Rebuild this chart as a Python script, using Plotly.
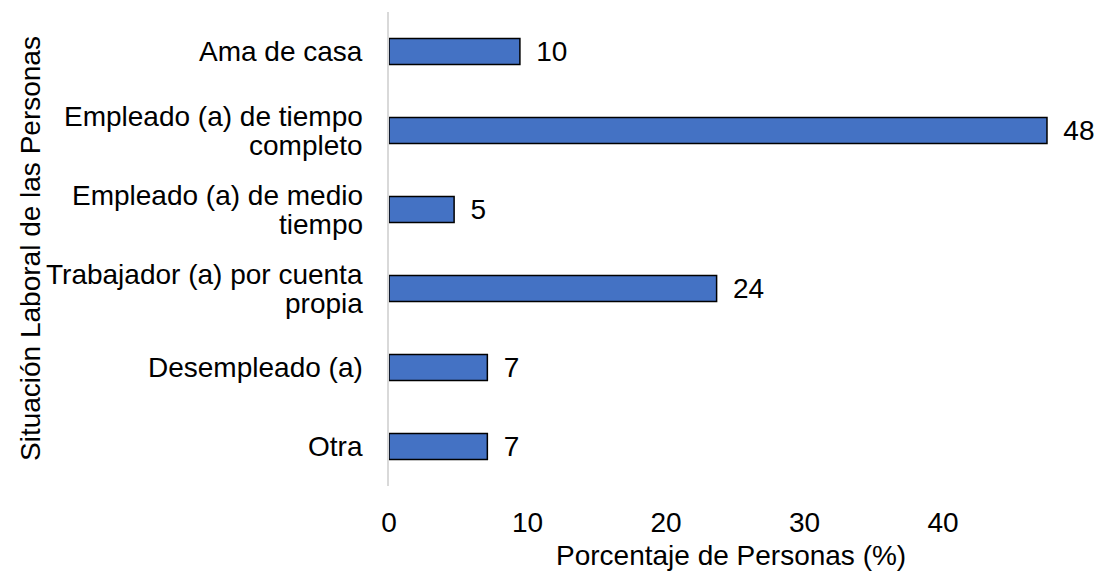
import plotly.graph_objects as go

categories = [
    "Ama de casa",
    "Empleado (a) de tiempo<br>completo",
    "Empleado (a) de medio<br>tiempo",
    "Trabajador (a) por cuenta<br>propia",
    "Desempleado (a)",
    "Otra",
]
values = [9.45, 47.5, 4.7, 23.65, 7.1, 7.1]
labels = ["10", "48", "5", "24", "7", "7"]
x_ticks = [0, 10, 20, 30, 40]

font_family = "Liberation Sans, Arial, sans-serif"
FS = 28

W, H = 1095, 574
L, R, T, B = 389, 30, 12, 88
pw = W - L - R
ph = H - T - B

fig = go.Figure(
    go.Bar(
        x=values,
        y=categories,
        orientation="h",
        text=labels,
        texttemplate=" \u2009%{text}",
        textposition="outside",
        constraintext="none",
        textfont=dict(size=FS, color="#000000", family=font_family),
        marker=dict(color="#4472C4", line=dict(color="#000000", width=1.5)),
        width=0.33,
        cliponaxis=False,
        hoverinfo="skip",
    )
)

fig.update_layout(
    width=W,
    height=H,
    plot_bgcolor="white",
    paper_bgcolor="white",
    margin=dict(l=L, r=R, t=T, b=B, autoexpand=False),
    showlegend=False,
    font=dict(family=font_family, size=FS, color="#000000"),
)

fig.update_xaxes(
    range=[0, 48.8],
    tickvals=x_ticks,
    showgrid=False,
    zeroline=False,
    showline=False,
    ticks="outside",
    ticklen=11,
    tickcolor="rgba(0,0,0,0)",
    tickfont=dict(size=FS, color="#000000"),
    automargin=False,
)

fig.update_yaxes(
    categoryorder="array",
    categoryarray=categories[::-1],
    showgrid=False,
    zeroline=False,
    showline=True,
    linecolor="#D9D9D9",
    linewidth=1.5,
    ticks="",
    showticklabels=False,
    automargin=False,
)

# category labels, drawn line by line with tight line spacing
LINE = 29
for cat in categories:
    lines = cat.split("<br>")
    n = len(lines)
    for i, line in enumerate(lines):
        offset = (n - 1) / 2 * LINE - i * LINE
        fig.add_annotation(
            text=line,
            xref="paper", yref="y",
            x=0, y=cat,
            xanchor="right", yanchor="middle",
            xshift=-24, yshift=offset,
            showarrow=False,
            font=dict(size=FS, color="#000000"),
        )

fig.add_annotation(
    text="Porcentaje de Personas (%)",
    xref="paper", yref="paper",
    x=(731 - L) / pw, y=-(555 - (T + ph)) / ph,
    xanchor="center", yanchor="middle",
    showarrow=False,
    font=dict(size=FS, color="#000000"),
)
fig.add_annotation(
    text="Situación Laboral de las Personas",
    xref="paper", yref="paper",
    x=(30 - L) / pw, y=0.5,
    xanchor="center", yanchor="middle",
    textangle=-90,
    showarrow=False,
    font=dict(size=FS, color="#000000"),
)

fig.write_html(
    "out.html",
    config={"displayModeBar": False},
    post_script="document.body.style.margin='0';document.body.style.overflow='hidden';",
)
